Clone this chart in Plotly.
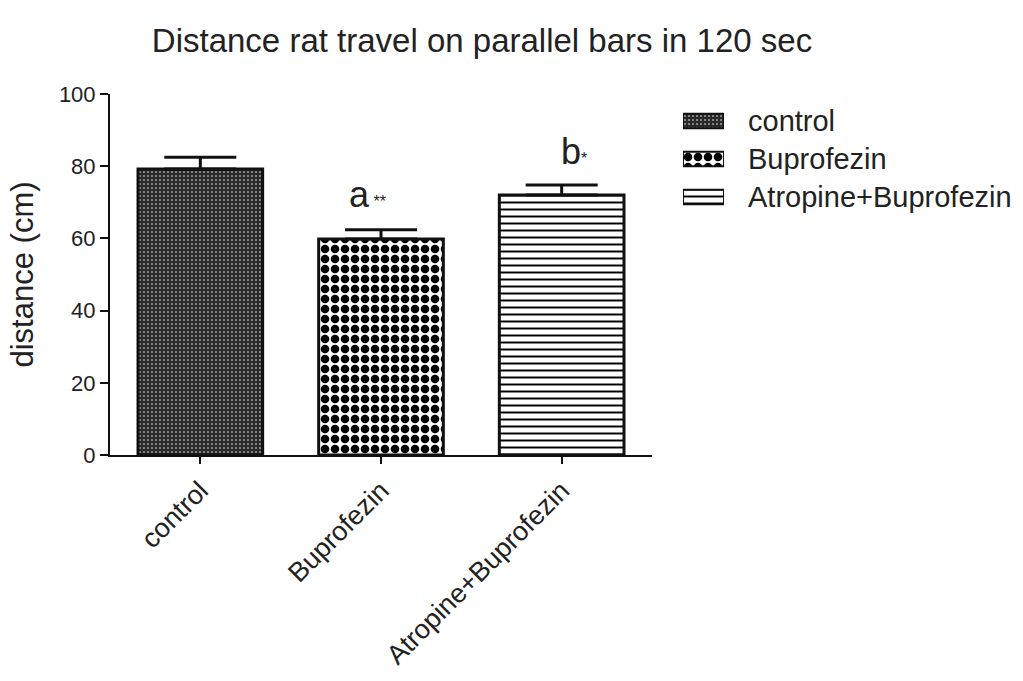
import plotly.graph_objects as go

categories = ["control", "Buprofezin", "Atropine+Buprofezin"]
means = [79.2, 59.8, 72.0]
sems = [3.3, 2.6, 2.8]
sig_labels = ["", "a<span style='font-size:16px'> **</span>", "b<span style='font-size:16px'>*</span>"]
y_ticks = [0, 20, 40, 60, 80, 100]
title = "Distance rat travel on parallel bars in 120 sec"
y_title = "distance (cm)"

patterns = [
    dict(shape=".", bgcolor="#2a2a2a", fgcolor="#ffffff", fgopacity=1, size=4, solidity=0.12),
    dict(shape=".", bgcolor="#ffffff", fgcolor="#000000", fgopacity=1, size=10, solidity=0.58),
    dict(shape="-", bgcolor="#ffffff", fgcolor="#000000", fgopacity=1, size=7, solidity=0.28),
]

FONT = "Liberation Sans, Arial, sans-serif"
TXT = "#222222"

fig = go.Figure()
for i, c in enumerate(categories):
    fig.add_trace(go.Bar(
        x=[c], y=[means[i]], width=0.69, name=c, showlegend=False, opacity=1,
        marker=dict(color="#ffffff", pattern=patterns[i], opacity=1,
                    line=dict(color="#111111", width=3)),
        error_y=dict(type="data", symmetric=False, array=[sems[i]], arrayminus=[0],
                     color="#111111", thickness=3, width=36),
        xaxis="x", yaxis="y",
    ))
    # legend swatch (manual legend on a secondary axis)
    fig.add_trace(go.Bar(
        y=[c], x=[1], orientation="h", width=0.38, showlegend=False, opacity=1,
        marker=dict(color="#ffffff", pattern=patterns[i], opacity=1,
                    line=dict(color="#111111", width=2)),
        xaxis="x2", yaxis="y2", hoverinfo="skip",
    ))
    fig.add_annotation(
        x=1.0, y=c, xref="x2", yref="y2", xanchor="left", xshift=22,
        text=c, showarrow=False, font=dict(family=FONT, size=29, color=TXT),
    )
    if sig_labels[i]:
        fig.add_annotation(
            x=c, y=means[i] + sems[i], xref="x", yref="y", yanchor="middle",
            yshift=35 if i == 1 else 33,
            xshift=-14 if i == 1 else 12,
            text=sig_labels[i], showarrow=False, font=dict(family=FONT, size=36, color=TXT),
        )

W, H = 1023, 681
ml, mr, mt, mb = 110, 0, 94, 226
pw = W - ml - mr
main_frac = 542 / pw

fig.update_layout(
    width=W, height=H, barmode="overlay",
    margin=dict(l=ml, r=mr, t=mt, b=mb),
    paper_bgcolor="white", plot_bgcolor="white",
    font=dict(family=FONT, color=TXT),
    title=dict(text=title, x=482 / W, xanchor="center", y=1 - 40 / H, yanchor="middle",
               font=dict(family=FONT, size=33, color=TXT)),
    xaxis=dict(domain=[0, main_frac], range=[-0.5, 2.5], showline=True, linecolor="#111111",
               linewidth=2, ticks="outside", ticklen=7, tickwidth=2, tickcolor="#111111",
               tickangle=-45, tickfont=dict(family=FONT, size=27, color=TXT),
               showgrid=False, zeroline=False),
    yaxis=dict(range=[0, 100], tickvals=y_ticks, showline=True, linecolor="#111111",
               linewidth=2, ticks="outside", ticklen=8, tickwidth=2, tickcolor="#111111",
               tickfont=dict(family=FONT, size=22, color=TXT), showgrid=False, zeroline=False,
               title=dict(text=y_title, font=dict(family=FONT, size=31, color=TXT), standoff=16)),
    xaxis2=dict(domain=[573 / pw, 614 / pw], range=[0, 1], visible=False, anchor="y2"),
    yaxis2=dict(domain=[(455 - 216) / 361, (455 - 102) / 361], categoryorder="array",
                categoryarray=categories, autorange="reversed", visible=False, anchor="x2"),
)

fig.write_html("out.html")
